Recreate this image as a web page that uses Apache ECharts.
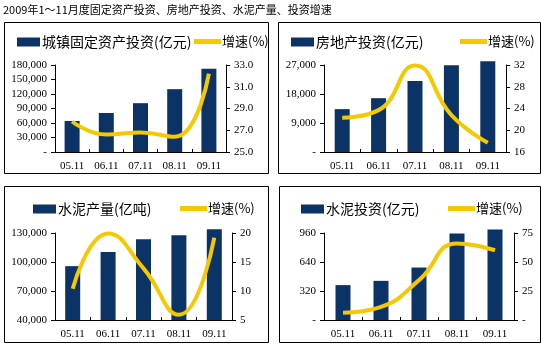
<!DOCTYPE html>
<html><head><meta charset="utf-8">
<script src="https://cdn.jsdelivr.net/npm/echarts@6/dist/echarts.min.js"></script>
<style>html,body{margin:0;padding:0;background:#fff}#c{width:541px;height:359px}</style>
</head><body><div id="c"></div>
<script>
const categories = ['05.11','06.11','07.11','08.11','09.11'];
const title = '2009年1～11月度固定资产投资、房地产投资、水泥产量、投资增速';

const fixedInvest = [64100, 80700, 101000, 130000, 172000];
const fixedGrowth = [27.8, 26.6, 26.8, 26.4, 32.2];
const realEstate = [13300, 16700, 22000, 26900, 28200];
const realEstateGrowth = [22.3, 23.7, 31.9, 22.8, 17.7];
const cementOutput = [95700, 110400, 123500, 127600, 133800];
const cementOutputGrowth = [10.4, 19.9, 13.9, 5.9, 19.2];
const cementInvest = [385, 432, 579, 955, 1000];
const cementInvestGrowth = [6.3, 11.4, 34.4, 65.9, 60.1];

const barNames = ['城镇固定资产投资(亿元)', '房地产投资(亿元)', '水泥产量(亿吨)', '水泥投资(亿元)'];
const lineName = '增速(%)';

const BAR = '#0b3366', LINE = '#f5c800';
const numFont = 'Liberation Serif';
const cjkFont = 'Noto Sans CJK SC';

const grids = [
  {left: 55, top: 65, width: 171, height: 87},
  {left: 324, top: 65, width: 182, height: 87},
  {left: 55, top: 233, width: 177, height: 87},
  {left: 324, top: 233, width: 190, height: 87}
];
const leftAxes = [
  {min: 0, max: 180000, interval: 30000},
  {min: 0, max: 27000, interval: 9000},
  {min: 40000, max: 130000, interval: 30000},
  {min: 0, max: 960, interval: 320}
];
const rightAxes = [
  {min: 25, max: 33, interval: 2, dec: 1},
  {min: 16, max: 32, interval: 4, dec: 0},
  {min: 5, max: 20, interval: 5, dec: 0},
  {min: 0, max: 75, interval: 25, dec: 0, dash: true}
];
const bars = [fixedInvest, realEstate, cementOutput, cementInvest];
const lines = [fixedGrowth, realEstateGrowth, cementOutputGrowth, cementInvestGrowth];
const boxes = [[4,22,264,151],[278,22,262,151],[4,186,264,156],[279,186,261,156]];
const legendPos = [
  [{left: 12, top: 30}, {left: 189, top: 30}],
  [{left: 286, top: 30}, {left: 455, top: 30}],
  [{left: 28, top: 197}, {left: 175, top: 197}],
  [{left: 296, top: 197}, {left: 443, top: 197}]
];

const fmtThousands = v => v === 0 ? '-' : v.toString().replace(/\B(?=(\d{3})+(?!\d))/g, ',');

const xAxis = [], yAxis = [], series = [], legend = [], graphic = [];
grids.forEach((g, i) => {
  xAxis.push({
    type: 'category', gridIndex: i, data: categories,
    axisLine: {lineStyle: {color: '#000', width: 1}},
    axisTick: {show: true, inside: true, length: 3, lineStyle: {color: '#000'}},
    axisLabel: {color: '#000', fontFamily: numFont, fontSize: 11, margin: 9}
  });
  const la = leftAxes[i];
  yAxis.push({
    type: 'value', gridIndex: i, min: la.min, max: la.max, interval: la.interval, startValue: la.min,
    axisLine: {show: true, onZero: false, lineStyle: {color: '#000'}},
    axisTick: {show: true, length: 4, lineStyle: {color: '#000'}},
    splitLine: {show: false},
    axisLabel: {color: '#000', fontFamily: numFont, fontSize: 11, margin: 8, formatter: fmtThousands}
  });
  const ra = rightAxes[i];
  yAxis.push({
    type: 'value', gridIndex: i, position: 'right', min: ra.min, max: ra.max, interval: ra.interval,
    axisLine: {show: true, lineStyle: {color: '#000'}},
    axisTick: {show: true, length: 4, lineStyle: {color: '#000'}},
    splitLine: {show: false},
    axisLabel: {color: '#000', fontFamily: numFont, fontSize: 11, margin: 8,
      formatter: v => (ra.dash && v === 0) ? '-' : v.toFixed(ra.dec)}
  });
  series.push({
    name: barNames[i], type: 'bar', xAxisIndex: i, yAxisIndex: 2*i,
    data: bars[i], barWidth: 15, itemStyle: {color: BAR}, z: 2, clip: false
  });
  series.push({
    name: lineName, type: 'line', xAxisIndex: i, yAxisIndex: 2*i+1,
    data: lines[i], smooth: 0.5, symbol: 'none', clip: false,
    lineStyle: {color: LINE, width: 4}, itemStyle: {color: LINE}, z: 3
  });
  legend.push({
    data: [{name: barNames[i], icon: 'rect'}], left: legendPos[i][0].left, top: legendPos[i][0].top,
    itemWidth: 23, itemHeight: 9, itemGap: 0, selectedMode: false,
    textStyle: {fontFamily: cjkFont, fontSize: 14, color: '#000', padding: [0,0,0,-3]}
  });
  legend.push({
    data: [{name: lineName, icon: 'rect'}], left: legendPos[i][1].left, top: legendPos[i][1].top,
    itemWidth: 27, itemHeight: 5, itemGap: 0, selectedMode: false,
    textStyle: {fontFamily: cjkFont, fontSize: 13, color: '#000', padding: [0,0,0,-4]}
  });
  const b = boxes[i];
  graphic.push({type: 'rect', shape: {x: b[0]+0.5, y: b[1]+0.5, width: b[2], height: b[3]},
    style: {fill: 'none', stroke: '#000', lineWidth: 1}, silent: true});
});

const chart = echarts.init(document.getElementById('c'), null, {renderer: 'canvas'});
chart.setOption({
  animation: false,
  backgroundColor: '#fff',
  title: {text: title, left: -2, top: -1,
    textStyle: {fontFamily: cjkFont, fontSize: 11, fontWeight: 'normal', color: '#000'}},
  grid: grids, xAxis, yAxis, series, legend, graphic
});
</script></body></html>
